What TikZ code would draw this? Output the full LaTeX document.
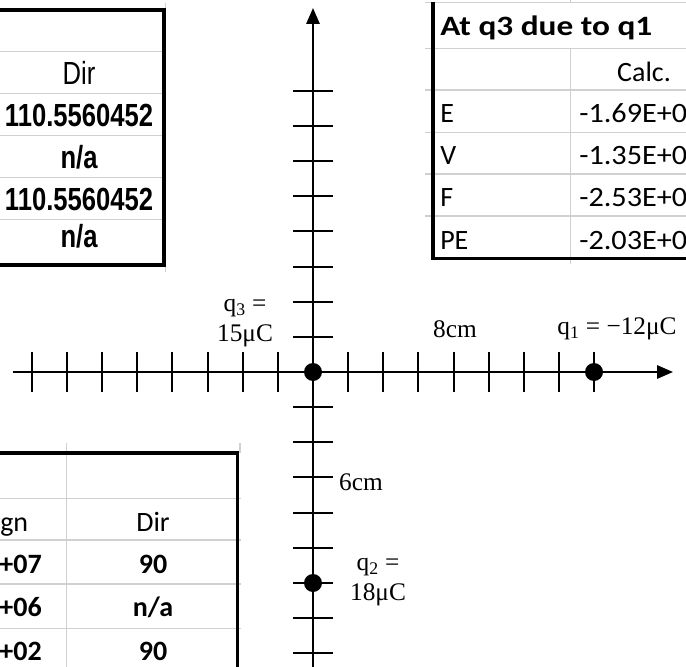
\documentclass[tikz,border=0pt]{standalone}
\usepackage{fontspec}
\setmainfont{Liberation Serif}
\newfontfamily\arialn[FakeStretch=0.80]{Liberation Sans}
\newfontfamily\calf{Carlito}
\newfontfamily\calnum[FakeStretch=1.08]{Carlito}
\newfontfamily\calhead[FakeStretch=1.19]{Carlito}
\usetikzlibrary{arrows.meta}
\definecolor{gridgray}{RGB}{208,208,208}
\begin{document}
\begin{tikzpicture}[x=0.75pt,y=-0.75pt,
  axisline/.style={line width=1.5pt},
  tickline/.style={line width=1.5pt},
  gridline/.style={draw=gridgray,line width=1pt},
  border/.style={line width=2.4pt,line cap=rect},
  charge/.style={circle,fill=black,minimum size=13.5pt,inner sep=0pt},
  lbl/.style={font=\fontsize{19}{22.5}\selectfont,align=center,inner sep=0pt},
  arialtxt/.style={font=\arialn\fontsize{24}{28}\selectfont,anchor=base,inner sep=0pt},
  caltxt/.style={font=\calf\fontsize{21}{25}\selectfont,anchor=base,inner sep=0pt},
  calnumtxt/.style={font=\calnum\fontsize{21}{25}\selectfont,anchor=base west,inner sep=0pt},
  tip/.style={-{Triangle[length=12pt,width=10pt]}}
]
\useasboundingbox (0,0) rectangle (686,667);
\fill[white] (0,0) rectangle (686,667);

\begin{scope}
\clip (0,0) rectangle (686,667);
% ---------- top-left table ----------
\foreach \yy in {51.7,93.3,135.7,177.3,219.3}
  \draw[gridline] (0,\yy) -- (165,\yy);
\draw[gridline] (165.5,3) -- (165.5,272);
\draw[border] (-5,10) -- (164,10) -- (164,265) -- (-5,265);
\node[arialtxt] (tlh) at (79,85) {Dir};
\node[arialtxt] (tl1) at (79,126.5) {\bfseries 110.5560452};
\node[arialtxt] (tl2) at (79,168.5) {\bfseries n/a};
\node[arialtxt] (tl3) at (79,210.5) {\bfseries 110.5560452};
\node[arialtxt] (tl4) at (79,247) {\bfseries n/a};

% ---------- top-right table ----------
\draw[gridline] (425,2.5) -- (690,2.5);
\foreach \yy in {48.3,90,132.3,174,216}
  \draw[gridline] (425,\yy) -- (690,\yy);
\draw[gridline] (570.7,0) -- (570.7,3);
\draw[gridline] (570.7,48.3) -- (570.7,264);
\draw[border] (433,4) -- (433,258.3) -- (690,258.3);
\node[caltxt,font=\calhead\fontsize{21}{25}\selectfont,anchor=base west] (trh) at (440,36) {\bfseries At q3 due to q1};
\node[caltxt] (trc) at (644,81.5) {Calc.};
\node[caltxt,anchor=base west] (trE) at (440,122.7) {E};
\node[caltxt,anchor=base west] (trV) at (440,165) {V};
\node[caltxt,anchor=base west] (trF) at (440,206.7) {F};
\node[caltxt,anchor=base west] (trP) at (440,249.3) {PE};
\node[calnumtxt] (trE2) at (579,122.7) {-1.69E+0};
\node[calnumtxt] (trV2) at (579,165) {-1.35E+0};
\node[calnumtxt] (trF2) at (579,206.7) {-2.53E+0};
\node[calnumtxt] (trP2) at (579,249.3) {-2.03E+0};

% ---------- bottom-left table ----------
\draw[gridline] (66.7,443) -- (66.7,670);
\foreach \yy in {498.3,540,584,628.3}
  \draw[gridline] (-2,\yy) -- (241,\yy);
\draw[gridline] (240,443) -- (240,453);
\draw[border] (-5,453) -- (237.7,453) -- (237.7,672);
\node[caltxt,anchor=base west] (blh) at (0,531.7) {gn};
\node[caltxt] (bld) at (153,531.7) {Dir};
\node[caltxt,anchor=base east] (bl1) at (42,573.5) {\bfseries +07};
\node[caltxt,anchor=base east] (bl2) at (42,616) {\bfseries +06};
\node[caltxt,anchor=base east] (bl3) at (42,660) {\bfseries +02};
\node[caltxt] (bl1d) at (153,573.5) {\bfseries 90};
\node[caltxt] (bl2d) at (153,616) {\bfseries n/a};
\node[caltxt] (bl3d) at (153,660) {\bfseries 90};
\end{scope}

% ---------- axes ----------
\coordinate (O) at (313,372);
\coordinate (xl) at (12.7,372);
\coordinate (xr) at (673,372);
\coordinate (yb) at (313,670);
\coordinate (yt) at (313,8);
\draw[axisline,tip] (xl) -- (xr);
\draw[axisline,tip] (yb) -- (yt);
\foreach \k in {-8,...,8}{
  \draw[tickline] ({313+35.15*\k},352) -- ({313+35.15*\k},392);
  \draw[tickline] (293,{372+35.15*\k}) -- (333,{372+35.15*\k});
}

% ---------- charges ----------
\node[charge] (q3) at (O) {};
\node[charge] (q1) at (594,372) {};
\node[charge] (q2) at (313,583) {};

% ---------- labels ----------
\node[lbl] (l3) at (245,323) {q\textsubscript{3} =\\15μC};
\node[lbl] (l8) at (455,329) {8cm};
\node[lbl] (l1) at (617,329) {q\textsubscript{1} = −12μC};
\node[lbl] (l6) at (361,482) {6cm};
\node[lbl] (l2) at (378,582) {q\textsubscript{2} =\\18μC};
\end{tikzpicture}
\end{document}
